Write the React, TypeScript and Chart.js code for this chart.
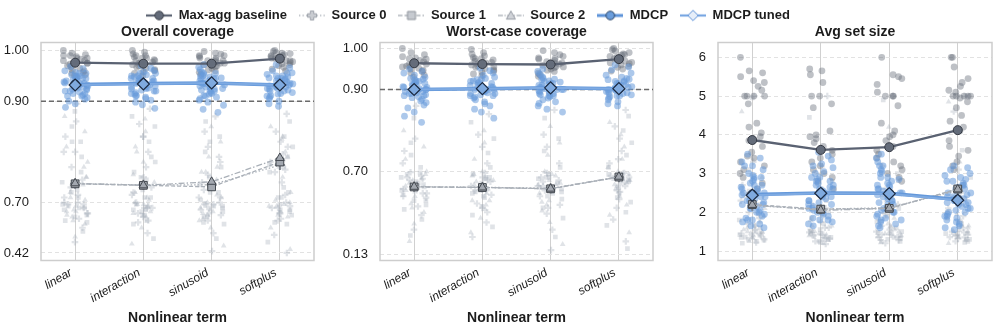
import React, { useEffect, useRef } from 'react';
import { Chart, registerables, LinearScale } from 'chart.js';

// ---------- piecewise (broken) y scale: linear above 0.7, compressed below ----------
const BREAK_AT = 0.7;
const COMPRESS = 0.355;

class BrokenLinearScale extends LinearScale {
  static id = 'brokenLinear';
  static defaults = LinearScale.defaults;
  tf(v: number) {
    return v >= BREAK_AT ? v : BREAK_AT + (v - BREAK_AT) * COMPRESS;
  }
  getPixelForValue(value: any) {
    if (value === null || value === undefined || isNaN(value)) return NaN;
    const a = this.tf(this.min);
    const b = this.tf(this.max);
    return this.getPixelForDecimal((this.tf(value) - a) / (b - a));
  }
  getValueForPixel(pixel: number) {
    const a = this.tf(this.min);
    const b = this.tf(this.max);
    const t = a + this.getDecimalForPixel(pixel) * (b - a);
    return t >= BREAK_AT ? t : BREAK_AT + (t - BREAK_AT) / COMPRESS;
  }
}
Chart.register(...registerables, BrokenLinearScale);

// ---------------- data ----------------
const CATEGORIES = ['linear', 'interaction', 'sinusoid', 'softplus'];
const SERIES_NAMES = ['Max-agg baseline', 'Source 0', 'Source 1', 'Source 2', 'MDCP', 'MDCP tuned'];
const X_TITLE = 'Nonlinear term';

// Panel 1: Overall coverage
const OVERALL_TITLE = 'Overall coverage';
const OVERALL_TICKS = [0.42, 0.7, 0.9, 1.0];
const OVERALL_RANGE = [0.378, 1.0158];
const OVERALL_TARGET = 0.9;
const OVERALL_MAXAGG = [0.976, 0.974, 0.974, 0.984];
const OVERALL_SRC0 = [0.737, 0.735, 0.735, 0.774];
const OVERALL_SRC1 = [0.737, 0.734, 0.731, 0.78];
const OVERALL_SRC2 = [0.738, 0.734, 0.741, 0.788];
const OVERALL_MDCP = [0.933, 0.935, 0.936, 0.932];
const OVERALL_TUNED = [0.932, 0.934, 0.936, 0.932];
const OVERALL_MAXAGG_PTS = [
  [1.0, 0.995, 0.992, 0.99, 0.988, 0.985, 0.983, 0.98, 0.978, 0.975, 0.973, 0.97, 0.968, 0.965, 0.962, 0.96, 0.957, 0.955, 0.952, 0.95, 0.99, 0.985, 0.98, 0.975],
  [1.0, 0.997, 0.993, 0.99, 0.987, 0.985, 0.982, 0.98, 0.977, 0.975, 0.972, 0.97, 0.967, 0.965, 0.962, 0.96, 0.958, 0.955, 0.95, 0.99, 0.985, 0.98, 0.975],
  [0.998, 0.995, 0.993, 0.99, 0.988, 0.985, 0.982, 0.98, 0.978, 0.975, 0.972, 0.97, 0.968, 0.965, 0.962, 0.96, 0.957, 0.953, 0.99, 0.985, 0.98, 0.975],
  [1.0, 0.998, 0.996, 0.994, 0.992, 0.99, 0.988, 0.986, 0.984, 0.982, 0.98, 0.978, 0.976, 0.974, 0.972, 0.97, 0.967, 0.963, 0.96, 0.995, 0.99, 0.985, 0.98],
];
const OVERALL_MDCP_PTS = [
  [0.968, 0.964, 0.96, 0.957, 0.955, 0.952, 0.95, 0.948, 0.946, 0.944, 0.942, 0.94, 0.938, 0.936, 0.934, 0.932, 0.93, 0.928, 0.926, 0.924, 0.922, 0.92, 0.918, 0.915, 0.912, 0.91, 0.907, 0.904, 0.9, 0.895, 0.888, 0.945, 0.935, 0.925, 0.94, 0.93, 0.95, 0.92, 0.915, 0.945, 0.935, 0.928, 0.955, 0.91],
  [0.97, 0.965, 0.961, 0.958, 0.955, 0.952, 0.95, 0.948, 0.946, 0.944, 0.942, 0.94, 0.938, 0.936, 0.934, 0.932, 0.93, 0.928, 0.926, 0.924, 0.922, 0.92, 0.917, 0.914, 0.911, 0.908, 0.905, 0.902, 0.898, 0.893, 0.886, 0.945, 0.935, 0.925, 0.94, 0.93, 0.95, 0.92, 0.915, 0.945, 0.935, 0.928, 0.955, 0.91],
  [0.972, 0.967, 0.962, 0.958, 0.955, 0.952, 0.95, 0.948, 0.946, 0.944, 0.942, 0.94, 0.938, 0.936, 0.934, 0.932, 0.93, 0.928, 0.926, 0.924, 0.922, 0.92, 0.917, 0.914, 0.911, 0.908, 0.905, 0.902, 0.898, 0.892, 0.884, 0.878, 0.945, 0.935, 0.925, 0.94, 0.95, 0.92, 0.915, 0.945, 0.935, 0.928, 0.955, 0.91],
  [0.972, 0.966, 0.96, 0.956, 0.953, 0.95, 0.948, 0.946, 0.944, 0.942, 0.94, 0.938, 0.936, 0.934, 0.932, 0.93, 0.928, 0.926, 0.924, 0.922, 0.92, 0.917, 0.914, 0.911, 0.908, 0.905, 0.9, 0.895, 0.89, 0.945, 0.935, 0.925, 0.94, 0.93, 0.95, 0.92, 0.915, 0.945, 0.935, 0.928, 0.955, 0.91],
];
const OVERALL_SRC_PTS = [
  [0.895, 0.88, 0.87, 0.86, 0.85, 0.84, 0.83, 0.82, 0.81, 0.8, 0.79, 0.78, 0.77, 0.76, 0.75, 0.745, 0.74, 0.735, 0.73, 0.725, 0.72, 0.715, 0.71, 0.705, 0.7, 0.69, 0.68, 0.67, 0.66, 0.65, 0.64, 0.63, 0.62, 0.61, 0.6, 0.58, 0.56, 0.54, 0.51, 0.48, 0.72, 0.71, 0.69, 0.67, 0.65, 0.7, 0.68, 0.66, 0.64, 0.62, 0.6, 0.69, 0.67, 0.63, 0.71, 0.59, 0.75, 0.8, 0.82, 0.77],
  [0.885, 0.87, 0.865, 0.855, 0.85, 0.84, 0.83, 0.82, 0.81, 0.8, 0.79, 0.78, 0.77, 0.76, 0.755, 0.75, 0.745, 0.74, 0.73, 0.725, 0.72, 0.715, 0.71, 0.705, 0.7, 0.69, 0.68, 0.67, 0.66, 0.65, 0.64, 0.63, 0.62, 0.6, 0.58, 0.56, 0.53, 0.5, 0.47, 0.72, 0.71, 0.69, 0.67, 0.65, 0.7, 0.68, 0.66, 0.64, 0.62, 0.6, 0.69, 0.67, 0.63, 0.71, 0.59, 0.75, 0.8, 0.83, 0.78],
  [0.87, 0.86, 0.85, 0.84, 0.83, 0.82, 0.81, 0.8, 0.79, 0.78, 0.77, 0.76, 0.755, 0.75, 0.745, 0.74, 0.735, 0.73, 0.725, 0.72, 0.715, 0.71, 0.705, 0.7, 0.69, 0.68, 0.67, 0.66, 0.65, 0.64, 0.63, 0.62, 0.61, 0.6, 0.58, 0.56, 0.53, 0.5, 0.46, 0.43, 0.72, 0.71, 0.69, 0.67, 0.65, 0.7, 0.68, 0.66, 0.64, 0.62, 0.6, 0.69, 0.67, 0.63, 0.71, 0.59, 0.76, 0.79, 0.82, 0.77],
  [0.875, 0.86, 0.85, 0.84, 0.83, 0.825, 0.82, 0.81, 0.8, 0.795, 0.79, 0.785, 0.78, 0.775, 0.77, 0.765, 0.76, 0.75, 0.74, 0.73, 0.72, 0.715, 0.71, 0.705, 0.7, 0.69, 0.68, 0.67, 0.66, 0.65, 0.64, 0.63, 0.62, 0.6, 0.58, 0.56, 0.52, 0.48, 0.44, 0.42, 0.72, 0.7, 0.68, 0.66, 0.69, 0.67, 0.65, 0.63, 0.61, 0.71, 0.68, 0.64, 0.59, 0.79, 0.81, 0.77, 0.83, 0.76],
];

// Panel 2: Worst-case coverage
const WORST_TITLE = 'Worst-case coverage';
const WORST_TICKS = [0.13, 0.7, 0.9, 1.0];
const WORST_RANGE = [0.0885, 1.0146];
const WORST_TARGET = 0.9;
const WORST_MAXAGG = [0.964, 0.962, 0.961, 0.974];
const WORST_SRC0 = [0.596, 0.592, 0.584, 0.66];
const WORST_SRC1 = [0.594, 0.59, 0.581, 0.662];
const WORST_SRC2 = [0.595, 0.59, 0.582, 0.664];
const WORST_MDCP = [0.9, 0.902, 0.904, 0.902];
const WORST_TUNED = [0.9, 0.902, 0.904, 0.902];
const WORST_MAXAGG_PTS = [
  [1.0, 0.99, 0.985, 0.98, 0.977, 0.974, 0.971, 0.968, 0.965, 0.962, 0.96, 0.957, 0.955, 0.952, 0.95, 0.947, 0.944, 0.94, 0.935, 0.93, 0.975, 0.965, 0.955],
  [0.998, 0.99, 0.986, 0.982, 0.978, 0.975, 0.972, 0.969, 0.966, 0.963, 0.96, 0.957, 0.954, 0.951, 0.948, 0.945, 0.942, 0.938, 0.934, 0.975, 0.965, 0.955],
  [0.995, 0.99, 0.985, 0.981, 0.977, 0.974, 0.971, 0.968, 0.965, 0.962, 0.959, 0.956, 0.953, 0.95, 0.947, 0.944, 0.94, 0.936, 0.932, 0.975, 0.965, 0.955],
  [1.0, 0.997, 0.994, 0.99, 0.987, 0.984, 0.981, 0.978, 0.975, 0.972, 0.969, 0.966, 0.963, 0.96, 0.957, 0.954, 0.95, 0.945, 0.985, 0.975, 0.965],
];
const WORST_MDCP_PTS = [
  [0.95, 0.945, 0.94, 0.935, 0.93, 0.927, 0.924, 0.921, 0.918, 0.915, 0.912, 0.91, 0.907, 0.905, 0.902, 0.9, 0.897, 0.895, 0.892, 0.89, 0.887, 0.885, 0.882, 0.88, 0.876, 0.872, 0.868, 0.862, 0.855, 0.845, 0.835, 0.82, 0.91, 0.9, 0.895, 0.905, 0.92, 0.89, 0.885, 0.915, 0.925, 0.9],
  [0.952, 0.946, 0.94, 0.935, 0.93, 0.927, 0.924, 0.921, 0.918, 0.915, 0.912, 0.91, 0.907, 0.905, 0.902, 0.9, 0.897, 0.895, 0.892, 0.89, 0.887, 0.885, 0.882, 0.879, 0.875, 0.87, 0.865, 0.86, 0.852, 0.845, 0.83, 0.91, 0.9, 0.895, 0.905, 0.9, 0.92, 0.89, 0.885, 0.915, 0.925],
  [0.95, 0.944, 0.938, 0.934, 0.93, 0.927, 0.924, 0.921, 0.918, 0.915, 0.912, 0.91, 0.907, 0.905, 0.902, 0.9, 0.897, 0.895, 0.892, 0.89, 0.887, 0.885, 0.882, 0.879, 0.875, 0.87, 0.866, 0.86, 0.852, 0.845, 0.91, 0.9, 0.895, 0.905, 0.9, 0.92, 0.89, 0.885, 0.915, 0.925],
  [0.96, 0.955, 0.948, 0.94, 0.935, 0.93, 0.927, 0.924, 0.921, 0.918, 0.915, 0.912, 0.91, 0.907, 0.905, 0.902, 0.9, 0.897, 0.895, 0.892, 0.89, 0.887, 0.885, 0.882, 0.879, 0.875, 0.87, 0.865, 0.86, 0.91, 0.9, 0.895, 0.905, 0.9, 0.92, 0.89, 0.885, 0.915, 0.925],
];
const WORST_SRC_PTS = [
  [0.86, 0.83, 0.8, 0.78, 0.77, 0.76, 0.75, 0.74, 0.73, 0.72, 0.71, 0.7, 0.695, 0.69, 0.68, 0.67, 0.66, 0.65, 0.64, 0.63, 0.62, 0.61, 0.6, 0.59, 0.58, 0.57, 0.56, 0.55, 0.54, 0.53, 0.52, 0.5, 0.48, 0.46, 0.44, 0.42, 0.4, 0.37, 0.34, 0.3, 0.26, 0.22, 0.65, 0.62, 0.6, 0.58, 0.68, 0.64, 0.55, 0.5, 0.45, 0.66, 0.61, 0.57, 0.53, 0.47],
  [0.84, 0.82, 0.8, 0.79, 0.78, 0.77, 0.76, 0.745, 0.73, 0.72, 0.71, 0.7, 0.69, 0.68, 0.67, 0.66, 0.65, 0.64, 0.63, 0.62, 0.61, 0.6, 0.59, 0.58, 0.57, 0.56, 0.55, 0.54, 0.52, 0.5, 0.48, 0.46, 0.44, 0.42, 0.4, 0.38, 0.35, 0.32, 0.28, 0.25, 0.66, 0.63, 0.6, 0.57, 0.68, 0.64, 0.55, 0.5, 0.45, 0.66, 0.61, 0.57, 0.53, 0.47],
  [0.85, 0.83, 0.81, 0.79, 0.78, 0.77, 0.76, 0.75, 0.74, 0.72, 0.71, 0.7, 0.69, 0.68, 0.67, 0.66, 0.65, 0.64, 0.63, 0.62, 0.61, 0.6, 0.59, 0.58, 0.57, 0.56, 0.55, 0.53, 0.51, 0.49, 0.47, 0.45, 0.43, 0.41, 0.38, 0.35, 0.3, 0.25, 0.2, 0.16, 0.66, 0.62, 0.6, 0.58, 0.68, 0.64, 0.55, 0.5, 0.45, 0.66, 0.61, 0.57, 0.53, 0.47],
  [0.85, 0.835, 0.82, 0.81, 0.8, 0.79, 0.78, 0.77, 0.76, 0.75, 0.74, 0.73, 0.72, 0.71, 0.7, 0.69, 0.68, 0.67, 0.66, 0.65, 0.64, 0.63, 0.62, 0.61, 0.6, 0.59, 0.58, 0.57, 0.55, 0.53, 0.51, 0.49, 0.47, 0.45, 0.42, 0.4, 0.37, 0.33, 0.28, 0.22, 0.17, 0.68, 0.66, 0.64, 0.69, 0.67, 0.63, 0.6, 0.56, 0.52, 0.71, 0.73, 0.65, 0.62],
];

// Panel 3: Avg set size
const SIZE_TITLE = 'Avg set size';
const SIZE_TICKS = [1, 2, 3, 4, 5, 6];
const SIZE_RANGE = [0.755, 6.382];
const SIZE_MAXAGG = [3.865, 3.61, 3.68, 4.12];
const SIZE_SRC0 = [2.17, 2.08, 2.12, 2.56];
const SIZE_SRC1 = [2.2, 2.08, 2.1, 2.6];
const SIZE_SRC2 = [2.19, 2.05, 2.1, 2.59];
const SIZE_MDCP = [2.46, 2.5, 2.49, 2.33];
const SIZE_TUNED = [2.44, 2.49, 2.48, 2.31];
const SIZE_MAXAGG_PTS = [
  [6.0, 5.65, 5.6, 5.5, 5.4, 5.35, 5.25, 5.15, 5.0, 5.0, 5.0, 5.0, 4.8, 4.3, 4.2, 4.05, 3.95, 3.85, 3.7, 3.55, 3.45, 3.4, 3.3, 3.2, 3.1, 3.0, 2.9, 2.75, 2.6, 2.45],
  [5.7, 5.65, 5.55, 5.35, 5.0, 5.0, 4.8, 4.7, 4.1, 4.0, 3.95, 3.9, 3.8, 3.7, 3.6, 3.5, 3.4, 3.3, 3.2, 3.1, 3.0, 2.9, 2.8, 2.6],
  [6.0, 5.55, 5.5, 5.45, 5.3, 5.1, 5.0, 5.0, 5.0, 4.75, 4.3, 4.1, 4.0, 3.95, 3.85, 3.7, 3.6, 3.5, 3.4, 3.3, 3.2, 3.1, 3.0, 2.9, 2.8],
  [6.0, 6.0, 5.75, 5.45, 5.35, 5.25, 5.15, 5.1, 5.0, 5.0, 5.0, 5.0, 5.0, 4.95, 4.85, 4.7, 4.5, 4.35, 4.2, 4.1, 3.85, 3.7, 3.6, 3.45, 3.3, 3.2, 3.1],
];
const SIZE_MDCP_PTS = [
  [3.5, 3.4, 3.3, 3.2, 3.1, 3.0, 2.95, 2.9, 2.85, 2.8, 2.75, 2.7, 2.65, 2.6, 2.55, 2.5, 2.45, 2.4, 2.35, 2.3, 2.25, 2.2, 2.15, 2.1, 2.05, 2.0, 1.95, 1.9, 1.85, 1.8, 1.75, 1.7, 1.65, 1.6, 2.5, 2.4, 2.6, 2.3, 2.7, 2.2, 2.9, 2.1, 2.0, 3.2, 1.8, 2.45],
  [3.55, 3.45, 3.35, 3.25, 3.15, 3.05, 3.0, 2.9, 2.85, 2.8, 2.75, 2.7, 2.65, 2.6, 2.55, 2.5, 2.45, 2.4, 2.35, 2.3, 2.25, 2.2, 2.15, 2.1, 2.05, 2.0, 1.95, 1.9, 1.85, 1.8, 1.75, 1.7, 1.65, 2.5, 2.4, 2.6, 2.3, 2.7, 2.2, 2.8, 2.9, 2.1, 2.0, 3.2, 1.8, 2.45],
  [3.5, 3.4, 3.3, 3.2, 3.1, 3.05, 3.0, 2.9, 2.85, 2.8, 2.75, 2.7, 2.65, 2.6, 2.55, 2.5, 2.45, 2.4, 2.35, 2.3, 2.25, 2.2, 2.15, 2.1, 2.05, 2.0, 1.95, 1.9, 1.85, 1.8, 1.75, 1.7, 1.65, 1.6, 2.5, 2.4, 2.6, 2.3, 2.7, 2.2, 2.9, 2.1, 2.0, 3.2, 1.8, 2.45],
  [3.2, 3.15, 3.1, 3.0, 2.95, 2.9, 2.85, 2.8, 2.75, 2.7, 2.65, 2.6, 2.55, 2.5, 2.45, 2.4, 2.35, 2.3, 2.25, 2.2, 2.15, 2.1, 2.05, 2.0, 1.95, 1.9, 1.85, 1.8, 1.75, 1.7, 1.65, 1.6, 1.55, 2.4, 2.3, 2.5, 2.2, 2.6, 2.1, 2.35, 2.0, 1.9, 2.7, 2.8, 2.25],
];
const SIZE_SRC_PTS = [
  [5.0, 4.95, 4.6, 3.3, 3.1, 2.9, 2.7, 2.55, 2.4, 2.3, 2.2, 2.1, 2.0, 1.95, 1.9, 1.85, 1.8, 1.75, 1.7, 1.65, 1.6, 1.55, 1.5, 1.48, 1.45, 1.42, 1.4, 1.38, 1.35, 1.32, 1.3, 1.28, 1.25, 1.22, 1.2, 1.5, 1.45, 1.6, 1.35, 1.4, 1.3, 1.5, 1.42, 1.25, 1.55, 1.65, 1.36, 1.46],
  [5.0, 4.45, 3.2, 3.0, 2.8, 2.6, 2.45, 2.3, 2.2, 2.1, 2.0, 1.95, 1.9, 1.85, 1.8, 1.75, 1.7, 1.65, 1.6, 1.55, 1.5, 1.48, 1.45, 1.42, 1.4, 1.38, 1.35, 1.32, 1.3, 1.28, 1.25, 1.22, 1.2, 1.18, 1.5, 1.45, 1.6, 1.35, 1.4, 1.55, 1.3, 1.5, 1.42, 1.25, 1.65, 1.36, 1.46],
  [5.0, 4.9, 4.2, 3.2, 3.0, 2.8, 2.6, 2.45, 2.3, 2.2, 2.1, 2.0, 1.95, 1.9, 1.85, 1.8, 1.75, 1.7, 1.65, 1.6, 1.55, 1.5, 1.48, 1.45, 1.42, 1.4, 1.38, 1.35, 1.32, 1.3, 1.28, 1.25, 1.22, 1.2, 1.5, 1.45, 1.6, 1.35, 1.4, 1.55, 1.3, 1.5, 1.42, 1.25, 1.65, 1.36, 1.46],
  [5.0, 5.0, 4.85, 4.6, 3.6, 3.3, 3.1, 2.9, 2.7, 2.5, 2.35, 2.2, 2.1, 2.0, 1.95, 1.9, 1.85, 1.8, 1.75, 1.7, 1.65, 1.6, 1.55, 1.5, 1.48, 1.45, 1.42, 1.4, 1.38, 1.35, 1.32, 1.3, 1.28, 1.25, 1.22, 1.2, 1.5, 1.45, 1.6, 1.35, 1.3, 1.5, 1.42, 1.25, 1.65, 1.36, 1.46],
];

// ---------------- styles & layout ----------------
const FONT = "'Liberation Sans', Arial, Helvetica, sans-serif";
const TEXT = '#1c1c1c';
const COL = {
  maxLine: '#5a6272', maxFill: '#646c7a', maxEdge: '#343943',
  srcLine: '#aab0b8', srcFill: '#a3a8b0', srcEdge: '#43484f',
  mdcpLine: '#6498da', mdcpFill: '#6f9fdc', mdcpEdge: '#263a56',
  tunedLine: '#7eaae2', tunedFill: '#7faadf', tunedEdge: '#1d2c44',
  maxCloud: 'rgba(100,107,120,0.42)', srcCloud: 'rgba(165,172,184,0.34)', mdcpCloud: 'rgba(104,154,218,0.55)',
  grid: '#e2e2e2', vgrid: '#d0d0d0', frame: '#cdcdcd', target: '#6a6a6a',
};
const PANEL_LAYOUT = [
  { left: 0, yW: 41, plotW: 273 },
  { left: 330, yW: 50, plotW: 273 },
  { left: 660, yW: 58, plotW: 274 },
];

const PANELS = [
  {
    title: OVERALL_TITLE, ticks: OVERALL_TICKS, range: OVERALL_RANGE, target: OVERALL_TARGET, broken: true, digits: 2,
    means: [OVERALL_MAXAGG, OVERALL_SRC0, OVERALL_SRC1, OVERALL_SRC2, OVERALL_MDCP, OVERALL_TUNED],
    maxPts: OVERALL_MAXAGG_PTS, mdcpPts: OVERALL_MDCP_PTS, srcPts: OVERALL_SRC_PTS,
  },
  {
    title: WORST_TITLE, ticks: WORST_TICKS, range: WORST_RANGE, target: WORST_TARGET, broken: true, digits: 2,
    means: [WORST_MAXAGG, WORST_SRC0, WORST_SRC1, WORST_SRC2, WORST_MDCP, WORST_TUNED],
    maxPts: WORST_MAXAGG_PTS, mdcpPts: WORST_MDCP_PTS, srcPts: WORST_SRC_PTS,
  },
  {
    title: SIZE_TITLE, ticks: SIZE_TICKS, range: SIZE_RANGE, target: null, broken: false, digits: 0,
    means: [SIZE_MAXAGG, SIZE_SRC0, SIZE_SRC1, SIZE_SRC2, SIZE_MDCP, SIZE_TUNED],
    maxPts: SIZE_MAXAGG_PTS, mdcpPts: SIZE_MDCP_PTS, srcPts: SIZE_SRC_PTS,
  },
];

// deterministic horizontal spread for strip-plot points (position only, not data)
function spread(i: number, seed: number) {
  let h = Math.imul(i + 1 + seed * 7919, 0x9e3779b1);
  h ^= h >>> 15;
  h = Math.imul(h, 0x85ebca77);
  h ^= h >>> 13;
  h = Math.imul(h, 0xc2b2ae35);
  h ^= h >>> 16;
  return ((h >>> 0) / 4294967296 - 0.5) * 0.38;
}

function cloudData(groups: number[][], seed: number, keep?: (i: number) => boolean) {
  const out: any[] = [];
  groups.forEach((vals, c) => {
    vals.forEach((v, i) => {
      if (!keep || keep(i)) out.push({ x: c + spread(i, seed * 10 + c), y: v });
    });
  });
  return out;
}

const lineData = (vals: number[]) => vals.map((v, i) => ({ x: i, y: v }));

const framePlugin = {
  id: 'frame',
  beforeDatasetsDraw(chart: any) {
    const { ctx, chartArea: a } = chart;
    ctx.save();
    ctx.strokeStyle = COL.frame;
    ctx.lineWidth = 1.5;
    ctx.strokeRect(a.left, a.top, a.right - a.left, a.bottom - a.top);
    ctx.restore();
  },
};

const targetPlugin = {
  id: 'targetLine',
  beforeDatasetsDraw(chart: any, _args: any, opts: any) {
    if (opts == null || opts.value == null) return;
    const { ctx, chartArea: a } = chart;
    const y = chart.scales.y.getPixelForValue(opts.value);
    ctx.save();
    ctx.strokeStyle = COL.target;
    ctx.lineWidth = 1.5;
    ctx.setLineDash([5, 3]);
    ctx.beginPath();
    ctx.moveTo(a.left, y);
    ctx.lineTo(a.right, y);
    ctx.stroke();
    ctx.restore();
  },
};

function panelConfig(p: any, lay: any) {
  const [mMax, mS0, mS1, mS2, mMdcp, mTuned] = p.means;
  const srcShapes = ['cross', 'rect', 'triangle'];
  const datasets: any[] = [
    {
      label: SERIES_NAMES[5], data: lineData(mTuned), showLine: true, order: 0,
      borderColor: COL.tunedLine, borderWidth: 2,
      pointStyle: 'rectRot', pointRadius: 6, pointBackgroundColor: COL.tunedFill, pointBorderColor: COL.tunedEdge, pointBorderWidth: 1.2,
    },
    {
      label: SERIES_NAMES[4], data: lineData(mMdcp), showLine: true, order: 1,
      borderColor: COL.mdcpLine, borderWidth: 3.5,
      pointStyle: 'circle', pointRadius: 4.5, pointBackgroundColor: COL.mdcpFill, pointBorderColor: COL.mdcpEdge, pointBorderWidth: 1,
    },
    {
      label: SERIES_NAMES[0], data: lineData(mMax), showLine: true, order: 2,
      borderColor: COL.maxLine, borderWidth: 2.3,
      pointStyle: 'circle', pointRadius: 4.5, pointBackgroundColor: COL.maxFill, pointBorderColor: COL.maxEdge, pointBorderWidth: 1,
    },
    {
      label: SERIES_NAMES[3], data: lineData(mS2), showLine: true, order: 3,
      borderColor: COL.srcLine, borderWidth: 1.3, borderDash: [6, 2, 1.5, 2],
      pointStyle: 'triangle', pointRadius: 5, pointBackgroundColor: COL.srcFill, pointBorderColor: COL.srcEdge, pointBorderWidth: 1,
    },
    {
      label: SERIES_NAMES[2], data: lineData(mS1), showLine: true, order: 4,
      borderColor: COL.srcLine, borderWidth: 1.3, borderDash: [4, 2],
      pointStyle: 'rect', pointRadius: 5.5, pointBackgroundColor: COL.srcFill, pointBorderColor: COL.srcEdge, pointBorderWidth: 1,
    },
    {
      label: SERIES_NAMES[1], data: lineData(mS0), showLine: true, order: 5,
      borderColor: COL.srcLine, borderWidth: 1.3, borderDash: [1.5, 2],
      pointStyle: 'cross', pointRadius: 5, pointBackgroundColor: COL.srcFill, pointBorderColor: '#7d828a', pointBorderWidth: 2,
    },
    {
      label: 'MDCP runs', data: cloudData(p.mdcpPts, 3), showLine: false, order: 10,
      pointStyle: 'circle', pointRadius: 3.4, pointBackgroundColor: COL.mdcpCloud, pointBorderWidth: 0, pointBorderColor: 'rgba(0,0,0,0)',
    },
    {
      label: 'Max-agg runs', data: cloudData(p.maxPts, 5), showLine: false, order: 11,
      pointStyle: 'circle', pointRadius: 3.4, pointBackgroundColor: COL.maxCloud, pointBorderWidth: 0, pointBorderColor: 'rgba(0,0,0,0)',
    },
  ];
  srcShapes.forEach((shape, s) => {
    datasets.push({
      label: 'Source ' + s + ' runs', data: cloudData(p.srcPts, 11 + s, (i) => i % 3 === s), showLine: false, order: 12 + s,
      pointStyle: shape, pointRadius: 3.3,
      pointBackgroundColor: COL.srcCloud,
      pointBorderColor: shape === 'cross' ? COL.srcCloud : 'rgba(0,0,0,0)',
      pointBorderWidth: shape === 'cross' ? 2.2 : 0,
    });
  });

  return {
    type: 'scatter',
    data: { datasets },
    plugins: [framePlugin, targetPlugin],
    options: {
      animation: false,
      responsive: false,
      events: [],
      layout: { padding: 0 },
      scales: {
        x: {
          type: 'linear', min: -0.5, max: 3.5,
          afterBuildTicks: (s: any) => { s.ticks = CATEGORIES.map((_, i) => ({ value: i })); },
          afterFit: (s: any) => { s.height = 70.5; },
          grid: { color: COL.vgrid, lineWidth: 1, drawTicks: false },
          border: { display: false },
          ticks: {
            autoSkip: false, maxRotation: 30, minRotation: 30, padding: 5, labelOffset: -4,
            callback: (v: any) => CATEGORIES[Math.round(v)],
            font: { family: FONT, size: 12, style: 'italic' }, color: TEXT,
          },
          title: { display: true, text: X_TITLE, font: { family: FONT, size: 14, weight: 'bold' }, color: TEXT, padding: { top: 0, bottom: 4 } },
        },
        y: {
          type: p.broken ? 'brokenLinear' : 'linear', min: p.range[0], max: p.range[1],
          afterBuildTicks: (s: any) => { s.ticks = p.ticks.map((v: number) => ({ value: v })); },
          afterFit: (s: any) => { s.width = lay.yW; },
          grid: { color: COL.grid, lineWidth: 1, drawTicks: false },
          border: { display: false, dash: [4, 3] },
          ticks: {
            padding: 12,
            callback: (v: any) => Number(v).toFixed(p.digits),
            font: { family: FONT, size: 13 }, color: TEXT,
          },
        },
        yR: {
          type: 'linear', position: 'right', display: true,
          afterFit: (s: any) => { s.width = lay.yW; },
          grid: { display: false, drawTicks: false }, border: { display: false }, ticks: { display: false },
        },
      },
      plugins: {
        legend: { display: false },
        tooltip: { enabled: false },
        targetLine: { value: p.target },
        title: {
          display: true, text: p.title, color: TEXT,
          font: { family: FONT, size: 14, weight: 'bold', lineHeight: 1.2 },
          padding: { top: 23.5, bottom: 2.2 },
        },
      },
    },
  };
}

// ---------------- legend ----------------
const LEGEND_STYLES = [
  { line: '#5b6372', lw: 2.2, dash: [], shape: 'circle', r: 4.3, fill: '#636b79', edge: '#3a3f48' },
  { line: '#b3b8bf', lw: 1.3, dash: [1.3, 2.2], shape: 'plus', r: 4.5, fill: '#c9ccd1', edge: '#9ea3ab' },
  { line: '#b3b8bf', lw: 1.3, dash: [4, 2], shape: 'square', r: 4, fill: '#c6cad0', edge: '#8e939b' },
  { line: '#b3b8bf', lw: 1.3, dash: [5, 1.5, 1.3, 1.5], shape: 'triangle', r: 4.5, fill: '#d0d3d8', edge: '#979ca4' },
  { line: '#5d93d9', lw: 3, dash: [], shape: 'circle', r: 4.3, fill: '#6a9ddc', edge: '#2d4566' },
  { line: '#77a6e2', lw: 2.2, dash: [], shape: 'diamond', r: 5.2, fill: '#e6eef9', edge: '#5a8fd6' },
];

function makeIcon(st: any) {
  const c = document.createElement('canvas');
  c.width = 26;
  c.height = 14;
  const g = c.getContext('2d') as CanvasRenderingContext2D;
  const cx = 13, cy = 7, r = st.r;
  g.strokeStyle = st.line;
  g.lineWidth = st.lw;
  g.setLineDash(st.dash);
  g.beginPath();
  g.moveTo(0, cy);
  g.lineTo(26, cy);
  g.stroke();
  g.setLineDash([]);
  g.fillStyle = st.fill;
  g.strokeStyle = st.edge;
  g.lineWidth = 1;
  g.beginPath();
  if (st.shape === 'circle') {
    g.arc(cx, cy, r, 0, Math.PI * 2);
  } else if (st.shape === 'square') {
    g.rect(cx - r, cy - r, 2 * r, 2 * r);
  } else if (st.shape === 'triangle') {
    g.moveTo(cx, cy - r);
    g.lineTo(cx + r, cy + r * 0.8);
    g.lineTo(cx - r, cy + r * 0.8);
    g.closePath();
  } else if (st.shape === 'diamond') {
    g.moveTo(cx, cy - r);
    g.lineTo(cx + r, cy);
    g.lineTo(cx, cy + r);
    g.lineTo(cx - r, cy);
    g.closePath();
  } else if (st.shape === 'plus') {
    const w = r * 0.38;
    g.moveTo(cx - w, cy - r); g.lineTo(cx + w, cy - r); g.lineTo(cx + w, cy - w); g.lineTo(cx + r, cy - w);
    g.lineTo(cx + r, cy + w); g.lineTo(cx + w, cy + w); g.lineTo(cx + w, cy + r); g.lineTo(cx - w, cy + r);
    g.lineTo(cx - w, cy + w); g.lineTo(cx - r, cy + w); g.lineTo(cx - r, cy - w); g.lineTo(cx - w, cy - w);
    g.closePath();
  }
  g.fill();
  g.stroke();
  return c;
}

function legendConfig() {
  const icons = LEGEND_STYLES.map(makeIcon);
  return {
    type: 'scatter',
    data: { datasets: SERIES_NAMES.map((n) => ({ label: n, data: [] })) },
    options: {
      animation: false,
      responsive: false,
      events: [],
      layout: { padding: 0 },
      scales: { x: { display: false }, y: { display: false } },
      plugins: {
        tooltip: { enabled: false },
        legend: {
          display: true, position: 'top', align: 'center',
          labels: {
            usePointStyle: true, pointStyleWidth: 26, boxHeight: 13, padding: 12,
            font: { family: FONT, size: 13, weight: 'bold' }, color: TEXT,
            generateLabels: () => SERIES_NAMES.map((n, i) => ({
              text: n, pointStyle: icons[i], fillStyle: 'rgba(0,0,0,0)', strokeStyle: 'rgba(0,0,0,0)',
              lineWidth: 0, hidden: false, datasetIndex: i, fontColor: TEXT,
            })),
          },
        },
      },
    },
  };
}

export default function App() {
  const legendRef = useRef<HTMLCanvasElement>(null);
  const r0 = useRef<HTMLCanvasElement>(null);
  const r1 = useRef<HTMLCanvasElement>(null);
  const r2 = useRef<HTMLCanvasElement>(null);
  const refs = [r0, r1, r2];

  useEffect(() => {
    const charts: Chart[] = [];
    charts.push(new Chart(legendRef.current as HTMLCanvasElement, legendConfig() as any));
    PANELS.forEach((p, i) => {
      charts.push(new Chart(refs[i].current as HTMLCanvasElement, panelConfig(p, PANEL_LAYOUT[i]) as any));
    });
    return () => charts.forEach((c) => c.destroy());
  }, []);

  return (
    <div style={{ position: 'fixed', left: 0, top: 0, width: 996, height: 331, overflow: 'hidden', background: '#ffffff' }}>
      <canvas ref={legendRef} width={942} height={90} style={{ position: 'absolute', left: -3, top: -3, width: 942, height: 90 }} />
      {PANEL_LAYOUT.map((lay, i) => {
        const w = lay.yW * 2 + lay.plotW;
        return (
          <canvas
            key={i}
            ref={refs[i]}
            width={w}
            height={331}
            style={{ position: 'absolute', left: lay.left, top: 0, width: w, height: 331 }}
          />
        );
      })}
    </div>
  );
}
